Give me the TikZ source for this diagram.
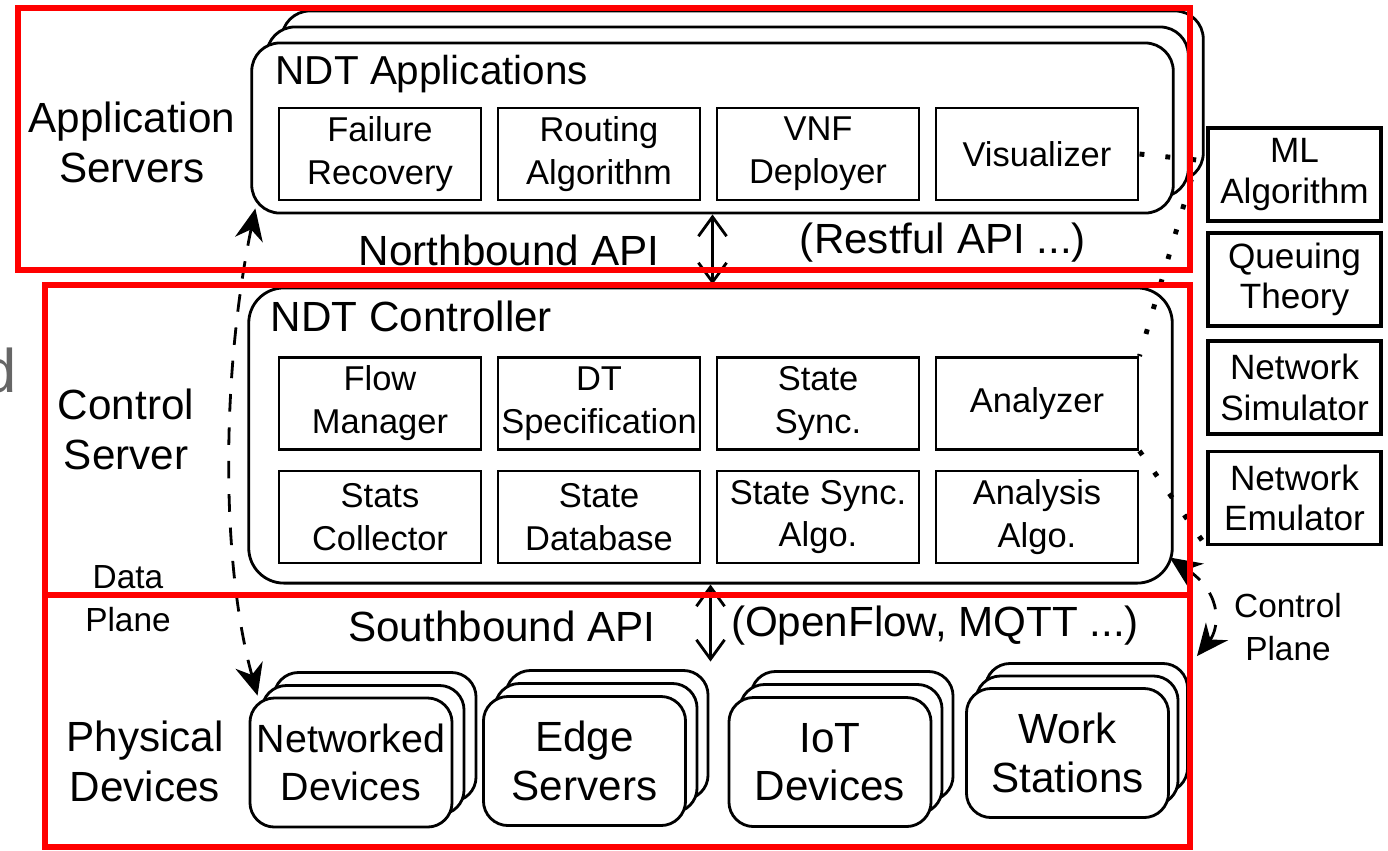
\documentclass[tikz,border=0pt]{standalone}
\usepackage{fontspec}
\setmainfont{Liberation Sans}
\usetikzlibrary{arrows.meta}

\begin{document}
\begin{tikzpicture}[x=0.01cm, y=-0.01cm,
    big/.style = {font=\fontsize{12}{14.2}\selectfont, align=center, inner sep=0},
    small/.style = {font=\fontsize{9.5}{12.2}\selectfont, align=center, inner sep=0},
    stackbox/.style = {draw, line width=0.8pt, rounded corners=8pt, fill=white, inner sep=0},
    module/.style = {draw, line width=0.8pt, minimum width=2.02cm, minimum height=0.92cm, inner sep=0, align=center, font=\fontsize{9.8}{12.2}\selectfont},
    tool/.style = {draw, line width=1pt, minimum width=1.73cm, minimum height=0.93cm, inner sep=0, align=center, font=\fontsize{10}{11.5}\selectfont},
    device/.style = {draw, line width=0.8pt, rounded corners=7pt, fill=white, minimum width=2.02cm, minimum height=1.29cm, inner sep=0, align=center, font=\fontsize{12}{13.8}\selectfont},
    zone/.style = {draw=red, line width=1.6pt},
    plane/.style = {line width=0.8pt, dash pattern=on 5pt off 4.5pt, {Stealth[length=9pt,width=8pt]}-{Stealth[length=9pt,width=8pt]}},
    api/.style = {line width=0.8pt, {Straight Barb[length=5.5pt,width=8pt]}-{Straight Barb[length=5.5pt,width=8pt]}},
    link/.style = {line width=1.4pt, dash pattern=on 1.4pt off 6pt}]
\useasboundingbox (0,0) rectangle (1388,850);

% Couche applications
\node[stackbox, minimum width=9.21cm, minimum height=1.70cm] (apps3) at (742.5,96) {};
\node[stackbox, minimum width=9.21cm, minimum height=1.70cm] (apps2) at (727.5,112) {};
\node[stackbox, minimum width=9.21cm, minimum height=1.70cm] (apps) at (712.5,128) {};
\node[big, anchor=west, font=\fontsize{11.5}{14}\selectfont] (appsname) at (275,74) {NDT Applications};
\node[module] (fail) at (380,154) {Failure\\Recovery};
\node[module] (route) at (599,154) {Routing\\Algorithm};
\node[module] (vnf) at (818,154) {VNF\\Deployer};
\node[module] (vis) at (1037,154) {Visualizer};

% Couche contrôleur
\node[stackbox, rounded corners=10pt, minimum width=9.23cm, minimum height=2.95cm] (ctrl) at (710.5,435.5) {};
\node[big, anchor=west] (ctrlname) at (270,316) {NDT Controller};
\node[module] (flow) at (380,403.5) {Flow\\Manager};
\node[module] (spec) at (599,403.5) {DT\\Specification};
\node[module] (sync) at (818,403.5) {State\\Sync.};
\node[module] (ana) at (1037,403.5) {Analyzer};
\node[module] (stats) at (380,517) {Stats\\Collector};
\node[module] (db) at (599,517) {State\\Database};
\node[module] (syncalgo) at (818,517) {State Sync.\\Algo.};
\node[module] (anaalgo) at (1037,517) {Analysis\\Algo.};

% Outils
\node[tool] (ml) at (1294.5,174.5) {ML\\Algorithm};
\node[tool] (queue) at (1294.5,279.5) {Queuing\\Theory};
\node[tool] (sim) at (1294.5,387.5) {Network\\Simulator};
\node[tool] (emu) at (1294.5,498) {Network\\Emulator};

% Équipements
\node[device] (net3) at (375,737) {};
\node[device] (net2) at (363,750) {};
\node[device, font=\fontsize{11.2}{13.8}\selectfont] (net) at (351,762.5) {Networked\\Devices};
\node[device] (edge3) at (607,735) {};
\node[device] (edge2) at (596,748) {};
\node[device] (edge) at (584.5,761) {Edge\\Servers};
\node[device] (iot3) at (852,736) {};
\node[device] (iot2) at (841,749) {};
\node[device] (iot) at (830,762) {IoT\\Devices};
\node[device] (work3) at (1086.5,728) {};
\node[device] (work2) at (1077,740.5) {};
\node[device] (work) at (1067.5,753) {Work\\Stations};

% Étiquettes
\node[big] (appsrv) at (132,142) {Application\\Servers};
\node[big] (ctrlsrv) at (126,429) {Control\\Server};
\node[big] (phys) at (145,761) {Physical\\Devices};
\node[small] (dplane) at (128,599) {Data\\Plane};
\node[small] (cplane) at (1288,627) {Control\\Plane};
\node[big] (nb) at (509,250) {Northbound API};
\node[big] (nbex) at (943,243) {(Restful API ...)};
\node[big] (sb) at (502,626) {Southbound API};
\node[big] (sbex) at (935,626) {(OpenFlow, MQTT ...)};
\node[inner sep=0, anchor=base east, text=black!60, font=\fontsize{17.5}{20}\selectfont] (cut) at (17,392) {d};

% Flèches
\draw[api] (apps.south) -- ++(0,70);
\draw[api] (ctrl.south) -- ++(0,77);
\draw[plane] ([shift={(5,-6)}]apps.south west) .. controls (222,370) and (220,560) .. ([shift={(9,-1)}]net.north west);
\draw[plane] ([shift={(-4,-27)}]ctrl.south east) .. controls (1225,595) and (1218,630) .. ([shift={(8,-6)}]work3.north east);
\draw[link] (vis.east) -- (1197,160) -- (ana.north east);
\draw[link] (ana.south east) -- (emu.south west);

% Cadres
\draw[zone] (18,8) rectangle (1190,270);
\draw[zone] (45,285) rectangle (1190,595);
\draw[zone] (45,595) rectangle (1190,847);
\end{tikzpicture}
\end{document}
